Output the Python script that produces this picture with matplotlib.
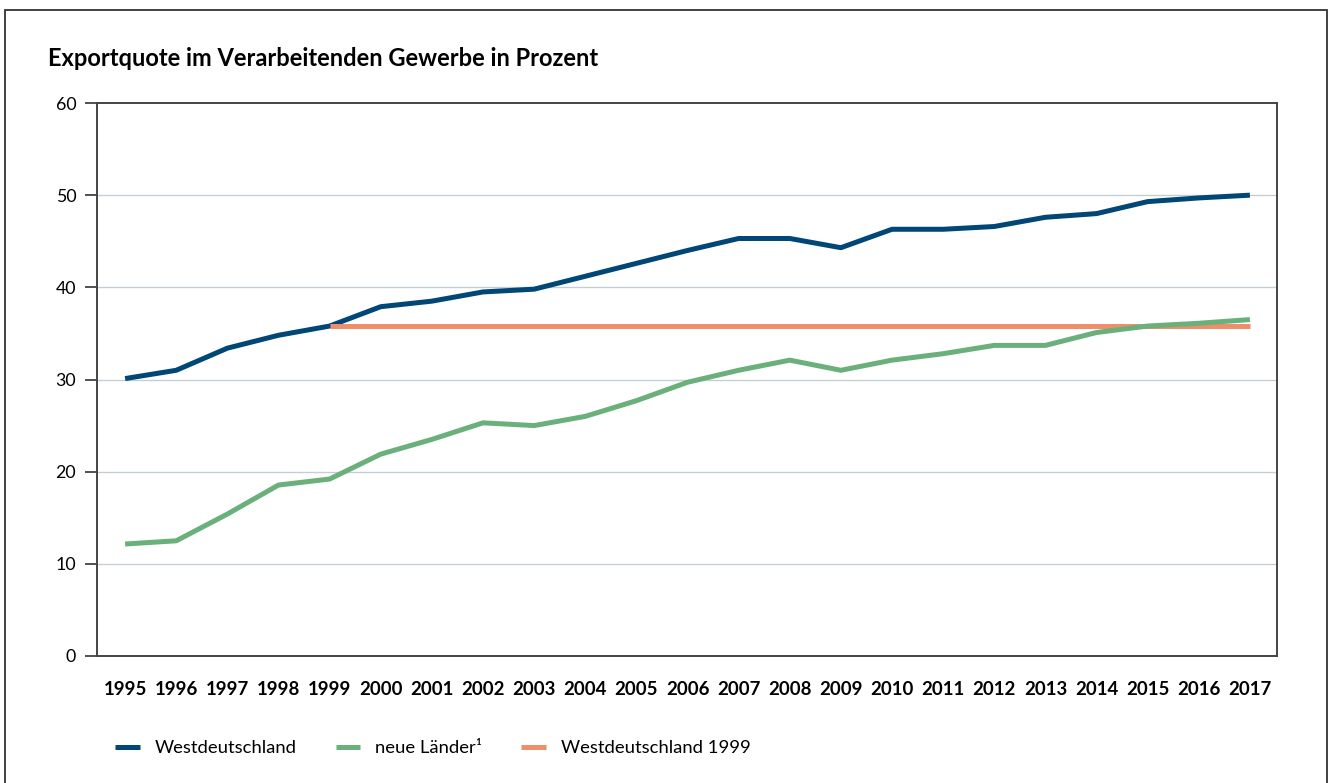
import matplotlib
matplotlib.use("Agg")
import matplotlib.pyplot as plt
from matplotlib.patches import Rectangle

plt.rcParams['font.family'] = ['Lato', 'DejaVu Sans']

years = list(range(1995, 2018))
west = [30.1, 31.0, 33.4, 34.8, 35.8, 37.9, 38.5, 39.5, 39.8, 41.2, 42.6, 44.0,
        45.3, 45.3, 44.3, 46.3, 46.3, 46.6, 47.6, 48.0, 49.3, 49.7, 50.0]
neue = [12.15, 12.5, 15.4, 18.55, 19.2, 21.9, 23.5, 25.3, 25.0, 26.0, 27.7, 29.7,
        31.0, 32.1, 31.0, 32.1, 32.8, 33.7, 33.7, 35.1, 35.8, 36.1, 36.5]
ref_years = years[4:]
west1999 = [35.8] * len(ref_years)

title = "Exportquote im Verarbeitenden Gewerbe in Prozent"
labels = ["Westdeutschland", "neue Länder\u00b9", "Westdeutschland 1999"]
yticks = [0, 10, 20, 30, 40, 50, 60]

c_navy = "#004676"
c_green = "#69b07a"
c_orange = "#ef8e6a"
c_grid = "#c3ced5"

W, H = 1335, 783
fig = plt.figure(figsize=(W / 100, H / 100), dpi=100)
ax = fig.add_axes([97 / W, 1 - 656 / H, (1277 - 97) / W, (656 - 103) / H])

l1, = ax.plot(years, west, color=c_navy, lw=3.6, solid_capstyle='butt', zorder=3)
l3, = ax.plot(ref_years, west1999, color=c_orange, lw=3.6, solid_capstyle='butt', zorder=4)
l2, = ax.plot(years, neue, color=c_green, lw=3.6, solid_capstyle='butt', zorder=5)

ax.set_xlim(1994.45, 2017.53)
ax.set_ylim(0, 60)
ax.set_yticks(yticks)
ax.set_yticklabels([str(v) for v in yticks], fontsize=12.8)
ax.set_xticks(years)
ax.set_xticklabels([str(y) for y in years], fontsize=13.4, fontweight='bold')
ax.tick_params(axis='x', length=0, pad=18)
ax.tick_params(axis='y', length=9, width=1.2, color='#333333', pad=6)
for y in yticks[1:-1]:
    ax.axhline(y, color=c_grid, lw=1.0, zorder=1)
for s in ax.spines.values():
    s.set_color('#444444')
    s.set_linewidth(1.4)

fig.text(48 / W, 1 - 58 / H, title, fontsize=17, fontweight='bold',
         ha='left', va='center')

fig.legend([l1, l2, l3], labels, loc='center left',
           bbox_to_anchor=(115 / W, 1 - 748 / H), ncol=3, frameon=False,
           fontsize=13.3, handlelength=1.35, handletextpad=0.8,
           columnspacing=2.1, borderaxespad=0, borderpad=0)

fig.patches.append(Rectangle((5 / W, -0.1), (1327 - 5) / W, 1.1 - 10 / H,
                             transform=fig.transFigure, fill=False,
                             edgecolor='#333333', lw=1.3))

fig.savefig("out.png", dpi=100)
